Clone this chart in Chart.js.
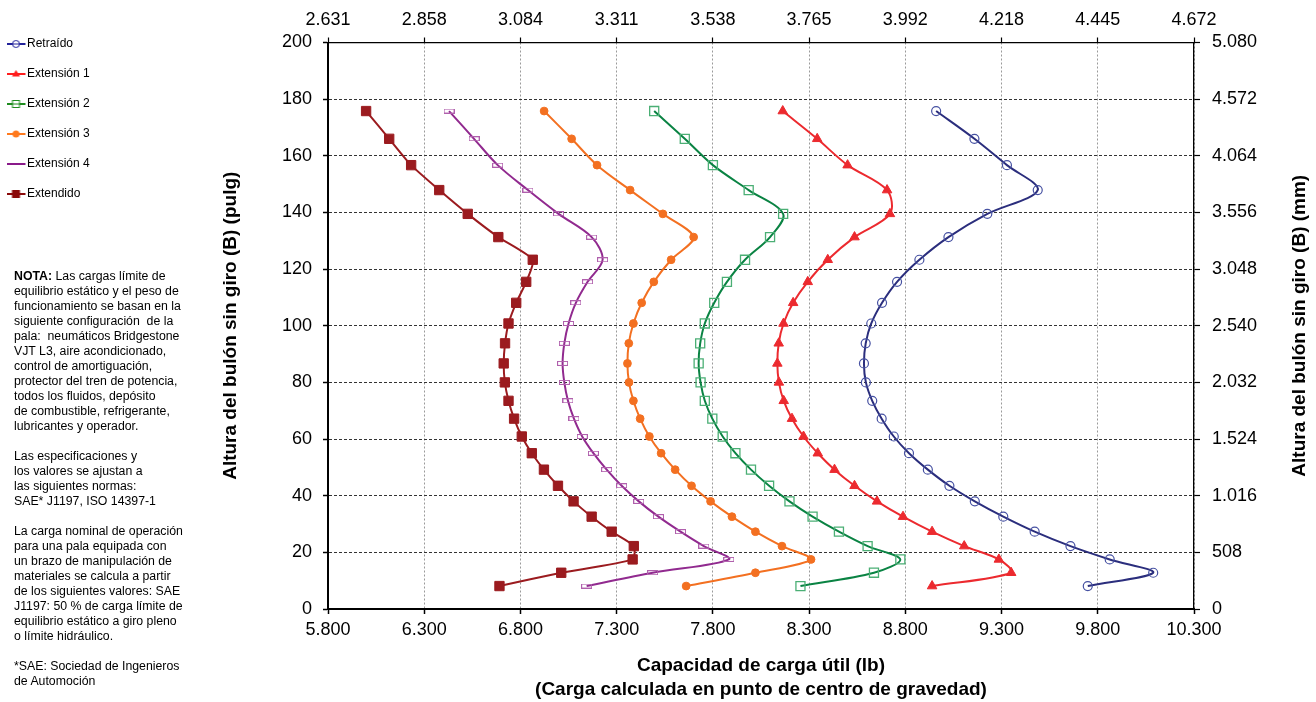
<!DOCTYPE html>
<html><head><meta charset="utf-8">
<script src="https://cdn.jsdelivr.net/npm/chart.js@4.4.1/dist/chart.umd.min.js"></script>
<style>
html,body{margin:0;padding:0;background:#fff;}
#wrap{position:relative;width:1316px;height:702px;overflow:hidden;background:#fff;}
#c{position:absolute;left:0;top:0;}
#notes{position:absolute;left:14px;top:269px;font:12.3px 'Liberation Sans',Arial,sans-serif;line-height:15px;color:#000;white-space:nowrap;}
</style></head><body>
<div id="wrap"><canvas id="c" width="1316" height="702"></canvas>
<div id="notes"><b>NOTA:</b> Las cargas límite de<br>equilibrio estático y el peso de<br>funcionamiento se basan en la<br>siguiente configuración&nbsp; de la<br>pala:&nbsp; neumáticos Bridgestone<br>VJT L3, aire acondicionado,<br>control de amortiguación,<br>protector del tren de potencia,<br>todos los fluidos, depósito<br>de combustible, refrigerante,<br>lubricantes y operador.<br><br>Las especificaciones y<br>los valores se ajustan a<br>las siguientes normas:<br>SAE* J1197, ISO 14397-1<br><br>La carga nominal de operación<br>para una pala equipada con<br>un brazo de manipulación de<br>materiales se calcula a partir<br>de los siguientes valores: SAE<br>J1197: 50 % de carga límite de<br>equilibrio estático a giro pleno<br>o límite hidráulico.<br><br>*SAE: Sociedad de Ingenieros<br>de Automoción</div>
</div>
<script>
// ---- data (heights in pulg, loads in lb) ----
const heights = [175.8, 166.0, 156.7, 147.9, 139.5, 131.3, 123.3, 115.5, 108.1, 100.8, 93.8, 86.7, 80.0, 73.5, 67.2, 60.9, 55.0, 49.2, 43.5, 38.0, 32.6, 27.3, 22.2, 17.5, 12.8, 8.1];
const retraido  = [8960, 9159, 9328, 9488, 9226, 9024, 8873, 8757, 8679, 8623, 8594, 8585, 8595, 8628, 8677, 8740, 8819, 8917, 9029, 9161, 9309, 9472, 9658, 9862, 10088, 9748];
const extension1 = [8163, 8342, 8500, 8705, 8720, 8536, 8397, 8293, 8217, 8167, 8142, 8135, 8143, 8168, 8211, 8271, 8345, 8432, 8536, 8653, 8788, 8939, 9106, 9286, 9350, 8939];
const extension2 = [7495, 7654, 7800, 7986, 8165, 8097, 7967, 7873, 7807, 7758, 7734, 7726, 7736, 7758, 7797, 7851, 7917, 7998, 8092, 8198, 8318, 8455, 8604, 8774, 8637, 8255];
const extension3 = [6923, 7066, 7198, 7370, 7540, 7700, 7583, 7493, 7430, 7387, 7363, 7356, 7364, 7387, 7422, 7470, 7531, 7604, 7689, 7788, 7899, 8021, 8159, 8310, 8021, 7661];
const extension4 = [6429, 6559, 6682, 6839, 6998, 7170, 7227, 7149, 7088, 7050, 7028, 7019, 7028, 7047, 7078, 7121, 7179, 7248, 7326, 7415, 7517, 7632, 7753, 7883, 7487, 7144];
const extendido  = [5998, 6118, 6232, 6378, 6526, 6685, 6864, 6830, 6778, 6738, 6720, 6713, 6719, 6738, 6767, 6807, 6859, 6922, 6995, 7076, 7170, 7274, 7389, 7383, 7012, 6691];
const seriesNames = ['Retraído', 'Extensión 1', 'Extensión 2', 'Extensión 3', 'Extensión 4', 'Extendido'];

// ---- ticks ----
const xTickValues = [5800, 6300, 6800, 7300, 7800, 8300, 8800, 9300, 9800, 10300];
const bottomLabels = ['5.800', '6.300', '6.800', '7.300', '7.800', '8.300', '8.800', '9.300', '9.800', '10.300'];
const topLabels = ['2.631', '2.858', '3.084', '3.311', '3.538', '3.765', '3.992', '4.218', '4.445', '4.672'];
const yTickValues = [0, 20, 40, 60, 80, 100, 120, 140, 160, 180, 200];
const leftLabels = ['0', '20', '40', '60', '80', '100', '120', '140', '160', '180', '200'];
const rightLabels = ['0', '508', '1.016', '1.524', '2.032', '2.540', '3.048', '3.556', '4.064', '4.572', '5.080'];

const xTitle = ['Capacidad de carga útil (lb)', '(Carga calculada en punto de centro de gravedad)'];
const yTitle = 'Altura del bulón sin giro (B) (pulg)';
const y2Title = 'Altura del bulón sin giro (B) (mm)';

const FONT = "'Liberation Sans', Arial, sans-serif";
Chart.defaults.font.family = FONT;
Chart.defaults.color = '#000';

function pts(xs) { return xs.map((x, i) => ({x: x, y: heights[i]})); }

function dashMarker() {
  const c = document.createElement('canvas'); c.width = 11; c.height = 5;
  const g = c.getContext('2d'); g.strokeStyle = '#B060AD'; g.lineWidth = 1;
  g.strokeRect(0.5, 0.5, 10, 4); return c;
}
function legendIcon(color, kind) {
  const c = document.createElement('canvas'); c.width = 26; c.height = 12;
  const g = c.getContext('2d');
  g.strokeStyle = color; g.lineWidth = 2;
  g.beginPath(); g.moveTo(0, 6); g.lineTo(19, 6); g.stroke();
  g.lineWidth = 1; g.fillStyle = color;
  const cx = 9.5, cy = 6;
  if (kind === 'ocircle') { g.fillStyle = '#fff'; g.beginPath(); g.arc(cx, cy, 3.5, 0, Math.PI * 2); g.fill(); g.stroke(); g.beginPath(); g.moveTo(cx-3.5, cy); g.lineTo(cx+3.5, cy); g.stroke(); }
  if (kind === 'tri') { g.beginPath(); g.moveTo(cx, cy - 4); g.lineTo(cx + 4, cy + 2.5); g.lineTo(cx - 4, cy + 2.5); g.closePath(); g.fill(); }
  if (kind === 'osq') { g.fillStyle = '#fff'; g.fillRect(cx - 3.5, cy - 3.5, 7, 7); g.strokeRect(cx - 3.5, cy - 3.5, 7, 7); g.beginPath(); g.moveTo(cx-3.5, cy); g.lineTo(cx+3.5, cy); g.stroke(); }
  if (kind === 'fcircle') { g.beginPath(); g.arc(cx, cy, 3.5, 0, Math.PI * 2); g.fill(); }
  if (kind === 'fsq') { g.fillRect(cx - 4, cy - 4, 8, 8); }
  return c;
}
const legendIcons = [
  legendIcon('#22229A', 'ocircle'),
  legendIcon('#FF1E1E', 'tri'),
  legendIcon('#1E8C1E', 'osq'),
  legendIcon('#FF7A1E', 'fcircle'),
  legendIcon('#8A1A8A', 'none'),
  legendIcon('#8B0A0A', 'fsq')
];

const rightTitlePlugin = {
  id: 'rightTitle',
  afterDraw(chart) {
    const ctx = chart.ctx, a = chart.chartArea;
    ctx.save();
    ctx.translate(1300, (a.top + a.bottom) / 2);
    ctx.rotate(-Math.PI / 2);
    ctx.font = 'bold 19px ' + FONT;
    ctx.textAlign = 'center'; ctx.textBaseline = 'middle'; ctx.fillStyle = '#000';
    ctx.fillText(y2Title, 0, 0);
    ctx.restore();
  }
};

const common = {showLine: true, borderWidth: 2, fill: false};
const datasets = [
  Object.assign({label: seriesNames[0], data: pts(retraido), borderColor: '#2B2E7D', tension: 0.33,
    pointStyle: 'circle', pointRadius: 4.5, pointBorderColor: '#4651A2', pointBackgroundColor: 'rgba(255,255,255,0)', pointBorderWidth: 1.2}, common),
  Object.assign({label: seriesNames[1], data: pts(extension1), borderColor: '#EC2A2F', tension: 0.33,
    pointStyle: 'triangle', pointRadius: 5.5, pointBorderColor: '#EC2A2F', pointBackgroundColor: '#EC2A2F', pointBorderWidth: 1}, common),
  Object.assign({label: seriesNames[2], data: pts(extension2), borderColor: '#0A8343', tension: 0.33,
    pointStyle: 'rect', pointRadius: 6.4, pointBorderColor: '#4BAF75', pointBackgroundColor: 'rgba(255,255,255,0)', pointBorderWidth: 1.3}, common),
  Object.assign({label: seriesNames[3], data: pts(extension3), borderColor: '#F37021', tension: 0.3,
    pointStyle: 'circle', pointRadius: 3.9, pointBorderColor: '#F37021', pointBackgroundColor: '#F37021', pointBorderWidth: 1}, common),
  Object.assign({label: seriesNames[4], data: pts(extension4), borderColor: '#912A8F', tension: 0.33,
    pointStyle: dashMarker(), pointRadius: 5}, common),
  Object.assign({label: seriesNames[5], data: pts(extendido), borderColor: '#9B1B1F', tension: 0.2,
    pointStyle: 'rect', pointRadius: 6.6, pointBorderColor: '#9B1B1F', pointBackgroundColor: '#9B1B1F', pointBorderWidth: 1}, common)
];

const tickFont = {size: 18};
new Chart(document.getElementById('c'), {
  type: 'scatter',
  data: {datasets: datasets},
  plugins: [rightTitlePlugin],
  options: {
    responsive: false, animation: false, events: [],
    layout: {padding: 0},
    plugins: {
      tooltip: {enabled: false},
      legend: {
        position: 'left', align: 'start', maxWidth: 100,
        title: {display: true, text: ' ', font: {size: 12}, padding: {top: 5.6, bottom: 0}},
        labels: {
          usePointStyle: true, pointStyleWidth: 3, padding: 18, font: {size: 12}, color: '#000',
          generateLabels: (chart) => chart.data.datasets.map((ds, i) => ({
            text: ds.label, pointStyle: legendIcons[i], fillStyle: '#000', strokeStyle: '#000',
            lineWidth: 0, hidden: false, datasetIndex: i, fontColor: '#000'
          }))
        }
      }
    },
    scales: {
      x: {
        type: 'linear', position: 'bottom', min: 5800, max: 10300,
        afterBuildTicks: s => { s.ticks = xTickValues.map(v => ({value: v})); },
        ticks: {callback: (v, i) => bottomLabels[i], font: tickFont, color: '#000', padding: 5, autoSkip: false, maxRotation: 0, minRotation: 0},
        grid: {color: '#9a9a9a', lineWidth: 1, tickLength: 5, tickColor: '#000', tickWidth: 1.5},
        border: {color: '#000', width: 2, dash: [2, 2]},
        title: {display: true, text: xTitle, font: {size: 19, weight: 'bold', lineHeight: '24px'}, padding: {top: 0, bottom: 0}},
        afterFit: s => { s.height = 93; }
      },
      x2: {
        type: 'linear', position: 'top', min: 5800, max: 10300,
        afterBuildTicks: s => { s.ticks = xTickValues.map(v => ({value: v})); },
        ticks: {callback: (v, i) => topLabels[i], font: tickFont, color: '#000', padding: 7, autoSkip: false, maxRotation: 0, minRotation: 0},
        grid: {drawOnChartArea: false, tickLength: 5, tickColor: '#000', tickWidth: 1.2},
        border: {color: '#000', width: 1.3},
        afterFit: s => { s.height = 42.5; }
      },
      y: {
        type: 'linear', position: 'left', min: 0, max: 200,
        afterBuildTicks: s => { s.ticks = yTickValues.map(v => ({value: v})); },
        ticks: {callback: (v, i) => leftLabels[i], font: tickFont, color: '#000', padding: 11, autoSkip: false},
        grid: {color: '#333', lineWidth: 1, tickLength: 5, tickColor: '#000', tickWidth: 1.5},
        border: {color: '#000', width: 2, dash: [3, 2]},
        title: {display: true, text: yTitle, font: {size: 19, weight: 'bold'}, padding: {top: 119.5, bottom: 0}},
        afterFit: s => { s.width = 328 - (s.chart.legend ? s.chart.legend.width : 100); }
      },
      y2: {
        type: 'linear', position: 'right', min: 0, max: 200,
        afterBuildTicks: s => { s.ticks = yTickValues.map(v => ({value: v})); },
        ticks: {callback: (v, i) => rightLabels[i], font: tickFont, color: '#000', padding: 12, autoSkip: false},
        grid: {drawOnChartArea: false, tickLength: 6, tickColor: '#000', tickWidth: 1.2},
        border: {color: '#000', width: 1.3},
        afterFit: s => { s.width = 122; }
      }
    }
  }
});
</script>
</body></html>
